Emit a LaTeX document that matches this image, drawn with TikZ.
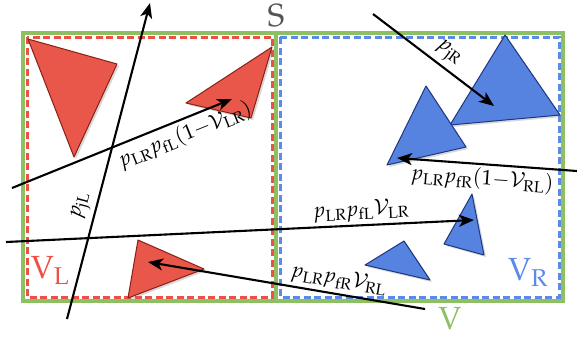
\documentclass[tikz,border=0pt]{standalone}
\usepackage{mathpazo}
\usetikzlibrary{arrows.meta,shadows}
\definecolor{vgreen}{HTML}{8DBF63}
\definecolor{lred}{HTML}{EE5045}
\definecolor{tred}{HTML}{E8574A}
\definecolor{ered}{HTML}{8A1F14}
\definecolor{lblue}{HTML}{5A8BEA}
\definecolor{tblue}{HTML}{5783E0}
\definecolor{eblue}{HTML}{1E3680}
\definecolor{sgray}{HTML}{555555}
\tikzset{
  redtri/.style={fill=tred,draw=ered,line width=1pt,line join=round,drop shadow={opacity=0.3,shadow xshift=2pt,shadow yshift=-2pt}},
  bluetri/.style={fill=tblue,draw=eblue,line width=1pt,line join=round,drop shadow={opacity=0.3,shadow xshift=2pt,shadow yshift=-2pt}},
  ray/.style={line width=2.1pt,-{Stealth[length=15pt,width=12pt,inset=4pt]}},
  lab/.style={font=\fontsize{21}{23}\selectfont,sloped,inner sep=1pt},
  big/.style={font=\fontsize{32}{34}\selectfont,inner sep=0pt},
  dsh/.style={line width=3pt,dash pattern=on 7pt off 3.5pt}
}
\begin{document}
\begin{tikzpicture}[x=1pt,y=-1pt]
\useasboundingbox[fill=white] (0,0) rectangle (577,338);
% outer V box and divider
\draw[vgreen,line width=3.5pt] (23,33) rectangle (563,301);
\draw[vgreen,line width=3.5pt] (276,33) -- (276,301);
% V_L and V_R dashed boxes
\draw[lred,dsh] (27,37) rectangle (272,297);
\draw[lblue,dsh] (280,37) rectangle (559,297);
% red triangles
\path[redtri] (28,39) -- (117,64) -- (74,157) -- cycle;
\path[redtri] (186,103) -- (272,47) -- (251,118) -- cycle;
\path[redtri] (138,240) -- (204,269) -- (128,298) -- cycle;
% blue triangles
\path[bluetri] (505,35) -- (560,115) -- (450,125) -- cycle;
\path[bluetri] (426,86) -- (466,147) -- (387,165) -- cycle;
\path[bluetri] (472,194) -- (484,255) -- (444,244) -- cycle;
\path[bluetri] (404,241) -- (430,280) -- (365,265) -- cycle;
% labels
\node[big,text=sgray] (S) at (276,15) {$\mathrm{S}$};
\node[big,text=lred] (VL) at (50,270) {$\mathrm{V}_{\mathrm{L}}$};
\node[big,text=lblue] (VR) at (528,272) {$\mathrm{V}_{\mathrm{R}}$};
\node[big,text=vgreen] (V) at (450,318) {$\mathrm{V}$};
% ray end points
\coordinate (a1s) at (67,319);  \coordinate (a1e) at (150,3);
\coordinate (a2s) at (12,188);  \coordinate (a2e) at (232,99);
\coordinate (a3s) at (6,242);   \coordinate (a3e) at (474,220);
\coordinate (a4s) at (425,309); \coordinate (a4e) at (148,262);
\coordinate (a5s) at (577,171); \coordinate (a5e) at (397,158);
\coordinate (a6s) at (373,14);  \coordinate (a6e) at (494,106);
% rays
\draw[ray] (a1s) -- node[lab,pos=0.345,above=3pt] {$p_{\mathrm{jL}}$} (a1e);
\draw[ray] (a2s) -- node[lab,pos=0.76,below=3pt] {$p_{\mathrm{LR}}p_{\mathrm{fL}}(1{-}\mathcal{V}_{\mathrm{LR}})$} (a2e);
\draw[ray] (a3s) -- node[lab,pos=0.76,above=2pt] {$p_{\mathrm{LR}}p_{\mathrm{fL}}\mathcal{V}_{\mathrm{LR}}$} (a3e);
\draw[ray] (a4s) -- node[lab,pos=0.32,above=2pt] {$p_{\mathrm{LR}}p_{\mathrm{fR}}\mathcal{V}_{\mathrm{RL}}$} (a4e);
\draw[ray] (a5s) -- node[lab,pos=0.52,below=2pt] {$p_{\mathrm{LR}}p_{\mathrm{fR}}(1{-}\mathcal{V}_{\mathrm{RL}})$} (a5e);
\draw[ray] (a6s) -- node[lab,pos=0.55,above=3pt] {$p_{\mathrm{jR}}$} (a6e);
\end{tikzpicture}
\end{document}
